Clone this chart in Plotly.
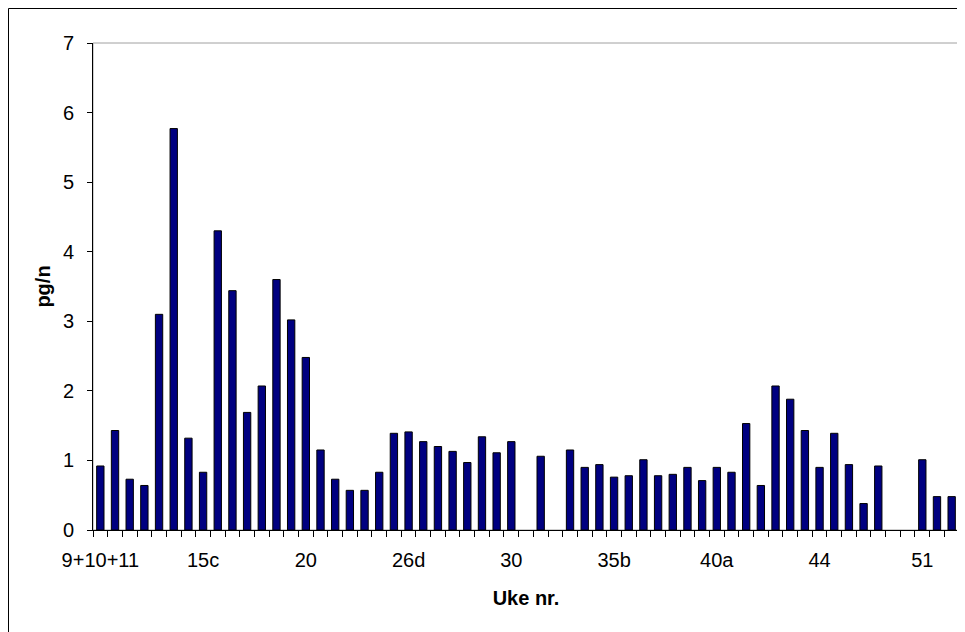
import plotly.graph_objects as go

categories = ["9+10+11", "12", "13", "14a", "14b", "15a", "15b", "15c", "16", "17a",
              "17b", "18", "19a", "19b", "20", "21", "22", "23", "26a", "26b",
              "26c", "26d", "27", "28a", "28b", "29a", "29b", "29c", "30", "31",
              "32", "33", "34a", "34b", "35a", "35b", "36", "37", "38", "39a",
              "39b", "39c", "40a", "40b", "41", "42", "43a", "43b", "43c", "44",
              "45", "46", "47", "48", "49", "50", "51", "52", "53"]
values = [0.92, 1.43, 0.73, 0.64, 3.10, 5.77, 1.32, 0.83, 4.30, 3.44,
          1.69, 2.07, 3.60, 3.02, 2.48, 1.15, 0.73, 0.57, 0.57, 0.83,
          1.39, 1.41, 1.27, 1.20, 1.13, 0.97, 1.34, 1.11, 1.27, None,
          1.06, None, 1.15, 0.90, 0.94, 0.76, 0.78, 1.01, 0.78, 0.80,
          0.90, 0.71, 0.90, 0.83, 1.53, 0.64, 2.07, 1.88, 1.43, 0.90,
          1.39, 0.94, 0.38, 0.92, None, None, 1.01, 0.48, 0.48]
shown_labels = ["9+10+11", "15c", "20", "26d", "30", "35b", "40a", "44", "51"]
y_ticks = [0, 1, 2, 3, 4, 5, 6, 7]

ticktext = [c if c in shown_labels else "" for c in categories]

fig = go.Figure()
fig.add_trace(go.Bar(
    x=categories, y=values,
    marker=dict(color="#000080", line=dict(color="#000000", width=1)),
))

font_family = "Liberation Sans, Arial, sans-serif"
W, H = 965, 632
L, R, T, B = 85, 14, 35, 110
pw, ph = W - L - R, H - T - B

fig.update_layout(
    width=W, height=H,
    margin=dict(l=L, r=R, t=T, b=B),
    paper_bgcolor="white", plot_bgcolor="white",
    bargap=0.5, showlegend=False,
    font=dict(family=font_family, size=20, color="#000000"),
    xaxis=dict(
        type="category", tickmode="array", tickvals=categories, ticktext=ticktext,
        tickson="boundaries", ticks="outside", ticklen=6, tickcolor="#000000",
        showline=True, linecolor="#000000", linewidth=1, showgrid=False,
        tickfont=dict(size=20), tickangle=0, ticklabelstandoff=12,
        automargin=False,
        title=dict(text="<b>Uke nr.</b>", font=dict(size=20), standoff=20),
    ),
    yaxis=dict(
        range=[0, 7], tickmode="array", tickvals=y_ticks,
        ticks="outside", ticklen=5, tickcolor="#000000",
        showline=True, linecolor="#000000", linewidth=1, showgrid=False,
        tickfont=dict(size=20), ticklabelstandoff=9, zeroline=False,
        automargin=False,
        title=dict(text="<b>pg/n</b>", font=dict(size=20), standoff=6),
    ),
    shapes=[
        dict(type="rect", xref="paper", yref="paper", x0=0, x1=1, y0=0, y1=1,
             line=dict(color="#A0A0A0", width=1), layer="below"),
        dict(type="rect", xref="paper", yref="paper",
             x0=(0.5 - L) / pw, x1=1 + (R - 0.5) / pw,
             y0=-(B - 0.5) / ph, y1=1 + (T - 0.5) / ph,
             line=dict(color="#000000", width=1), layer="below"),
    ],
)

fig.write_html("out.html")
